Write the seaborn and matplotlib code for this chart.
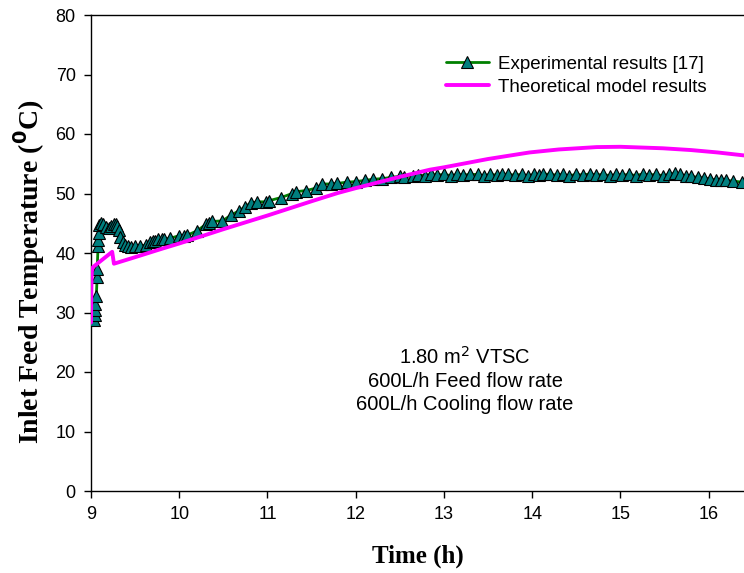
import numpy as np
import pandas as pd
import matplotlib
matplotlib.use("Agg")
import matplotlib.pyplot as plt
import seaborn as sns

# ---- data ----
exp_time = [9.03, 9.04, 9.05, 9.05, 9.06, 9.07, 9.07, 9.08, 9.08, 9.09, 9.09,
            9.11, 9.14, 9.17, 9.20, 9.23, 9.26, 9.28, 9.30, 9.32, 9.33, 9.36,
            9.39, 9.42, 9.45, 9.50, 9.56, 9.62, 9.67, 9.70, 9.73, 9.76, 9.80,
            9.83, 9.90, 10.00, 10.05, 10.09, 10.20, 10.30, 10.34, 10.37, 10.49,
            10.59, 10.68, 10.74, 10.81, 10.88, 10.98, 11.02, 11.15, 11.28, 11.32,
            11.44, 11.55, 11.62, 11.72, 11.79, 11.90, 12.00, 12.10, 12.20, 12.30,
            12.40, 12.50, 12.55, 12.65, 12.70, 12.78, 12.85, 12.92, 13.00, 13.08,
            13.15, 13.22, 13.30, 13.38, 13.45, 13.52, 13.60, 13.66, 13.72, 13.80,
            13.88, 13.95, 14.02, 14.08, 14.12, 14.20, 14.28, 14.35, 14.42, 14.50,
            14.58, 14.65, 14.72, 14.80, 14.88, 14.95, 15.02, 15.10, 15.18, 15.25,
            15.32, 15.40, 15.48, 15.55, 15.62, 15.68, 15.74, 15.80, 15.88, 15.95,
            16.02, 16.08, 16.14, 16.20, 16.27, 16.38]
exp_temp = [28.8, 29.5, 30.5, 31.5, 32.7, 36.0, 37.3, 41.1, 42.2, 43.4, 44.7,
            45.0, 44.8, 44.3, 44.2, 44.5, 44.8, 44.9, 44.5, 43.9, 42.7, 41.9,
            41.3, 41.1, 41.0, 41.1, 41.2, 41.3, 41.8, 42.0, 42.1, 42.3, 42.4,
            42.3, 42.5, 42.9, 42.8, 43.0, 43.7, 44.8, 45.1, 45.3, 45.4,
            46.4, 47.1, 47.7, 48.4, 48.6, 48.6, 48.8, 49.3, 50.0, 50.3,
            50.5, 50.9, 51.6, 51.6, 51.7, 51.9, 52.0, 52.2, 52.4, 52.5,
            52.7, 52.9, 52.8, 53.0, 53.1, 53.0, 53.2, 53.1, 53.2, 53.0,
            53.2, 53.1, 53.2, 53.2, 53.0, 53.2, 53.1, 53.3, 53.2, 53.1,
            53.2, 53.0, 53.2, 53.1, 53.3, 53.2, 53.1, 53.2, 53.0, 53.2,
            53.1, 53.3, 53.1, 53.2, 53.0, 53.2, 53.1, 53.2, 53.0, 53.3,
            53.1, 53.2, 53.0, 53.2, 53.4, 53.2, 53.0, 52.9, 52.7, 52.6,
            52.4, 52.3, 52.3, 52.2, 52.1, 51.9]

th_time = [9.0, 9.003, 9.006, 9.01, 9.02, 9.24, 9.26, 9.5, 9.8, 10.0, 10.5, 11.0,
           11.5, 11.8, 12.0, 12.5, 12.84, 13.0, 13.5, 13.97, 14.3, 14.73, 15.0,
           15.48, 15.8, 16.1, 16.4]
th_temp = [28.3, 33.0, 35.5, 37.0, 37.6, 40.2, 38.2, 39.3, 40.7, 41.6, 44.0, 46.3,
           48.7, 50.1, 50.9, 52.8, 54.0, 54.4, 55.8, 56.9, 57.4, 57.8, 57.85,
           57.6, 57.3, 56.9, 56.4]

x_ticks = [9, 10, 11, 12, 13, 14, 15, 16]
y_ticks = [0, 10, 20, 30, 40, 50, 60, 70, 80]

# ---- plot ----
sns.set_style("ticks")
plt.rcParams['font.family'] = ['Liberation Sans', 'DejaVu Sans']
plt.rcParams['text.color'] = 'black'
plt.rcParams['axes.labelcolor'] = 'black'

fig = plt.figure(figsize=(7.44, 5.73), dpi=100)
ax = fig.add_axes([91/744, 82/573, 1 - 91/744, (491 - 15)/573])

exp_df = pd.DataFrame({"t": exp_time, "T": exp_temp})
th_df = pd.DataFrame({"t": th_time, "T": th_temp})

sns.lineplot(data=exp_df, x="t", y="T", estimator=None, sort=False, ax=ax,
             color="#008000", linewidth=2.0, marker="^", markersize=8,
             markerfacecolor="#007F7F", markeredgecolor="black",
             markeredgewidth=0.8, label="Experimental results [17]", zorder=3)
sns.lineplot(data=th_df, x="t", y="T", estimator=None, sort=False, ax=ax,
             color="#FF00FF", linewidth=2.8, label="Theoretical model results",
             zorder=4)

ax.set_xlim(9, 16.4)
ax.set_ylim(0, 80)
ax.set_xticks(x_ticks)
ax.set_yticks(y_ticks)
ax.tick_params(axis="both", direction="out", length=5, width=1, labelsize=13,
               colors="black", pad=6)
ax.spines["right"].set_visible(False)
for s in ["left", "bottom", "top"]:
    ax.spines[s].set_linewidth(1.0)
    ax.spines[s].set_color("black")

ax.set_xlabel("Time (h)", family="Liberation Serif", fontweight="bold",
              fontsize=18, labelpad=15, color="black")
ax.set_ylabel("Inlet Feed Temperature ($\\mathbf{^{0}}$C)", family="Liberation Serif",
              fontweight="bold", fontsize=20, color="black")
ax.yaxis.set_label_coords(-0.067, 0.46)

leg = ax.legend(loc="upper left", bbox_to_anchor=(0.543, 0.915), frameon=False,
                fontsize=13.5, handlelength=2.3, handletextpad=0.5,
                borderaxespad=0.0, borderpad=0.0, labelspacing=0.32,
                labelcolor="black")

ax.text(0.573, 0.233, "1.80 m$^2$ VTSC\n600L/h Feed flow rate\n600L/h Cooling flow rate",
        transform=ax.transAxes, ha="center", va="center", fontsize=14.5,
        linespacing=1.25, color="black")

fig.savefig("out.png", dpi=100)
